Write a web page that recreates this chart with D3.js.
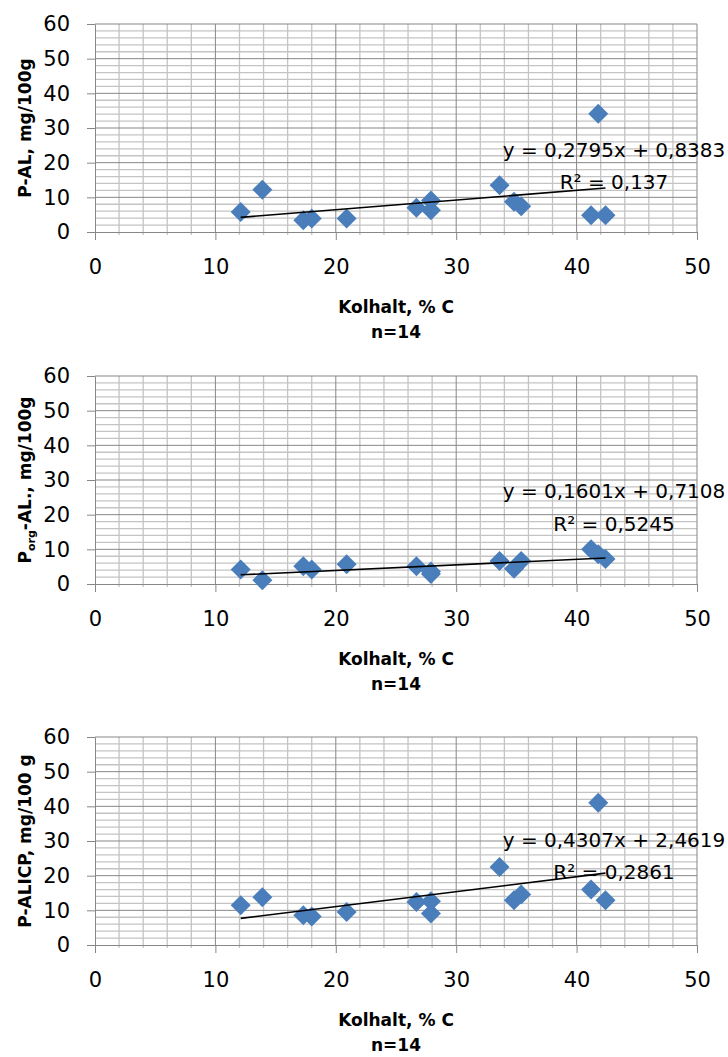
<!DOCTYPE html>
<html>
<head>
<meta charset="utf-8">
<script src="https://cdn.jsdelivr.net/npm/d3@7"></script>
<style>
	body{margin:0;background:#fff;}
	svg{display:block;font-family:'DejaVu Sans',sans-serif;}
</style>
</head>
<body>
<svg id="charts" width="728" height="1057"></svg>
<script>
/*data*/
const kolhalt = [12.1,13.9,17.3,18.0,20.9,26.7,27.9,27.9,33.6,34.8,35.4,41.2,41.8,42.4]
const p_al = [5.8,12.2,3.4,3.9,3.9,7.0,9.1,6.3,13.5,8.7,7.4,4.8,34.1,4.8]
const p_org_al = [4.2,1.1,5.1,4.2,5.7,5.1,3.6,2.9,6.6,4.4,6.6,10.0,8.6,7.2]
const p_alicp = [11.5,13.8,8.6,8.2,9.5,12.4,12.6,9.1,22.5,12.9,14.6,16.0,41.0,12.9]

const x_ticks = [0,10,20,30,40,50]
const y_ticks = [0,10,20,30,40,50,60]

const slopes = [0.2795,0.1601,0.4307]
const intercepts = [0.8383,0.7108,2.4619]
const r_squared = [0.137,0.5245,0.2861]

const y_titles = [
	[['P-AL, mg/100g',false]],
	[['P',false],['org',true],['-AL., mg/100g',false]],
	[['P-ALICP, mg/100 g',false]]
]
const x_title = 'Kolhalt, % C'
const n_label = 'n=14'
/*data*/

const series = [p_al,p_org_al,p_alicp]

const plot_tops = [24,376,737]
const plot_h = 208
const eq_offsets = [[133,165],[122,155],[110,142]]

const grid_major = '#878787'
const grid_minor = '#c4c4c4'
const blue = '#4a7ebb'

const comma = v => String(v).replace('.',',')

const svg = d3.select('#charts')

const xScale = d3.scaleLinear()
	.domain([0,50])
	.range([95,697])

const make_chart = (i) => {
	const top = plot_tops[i]
	const bottom = top + plot_h
	const vals = series[i]

	const yScale = d3.scaleLinear()
		.domain([0,60])
		.range([bottom,top])

	const chart = svg.append('g').classed('chart',true)

	//minor grid
	chart.selectAll('.hminor')
		.data(d3.range(0,61,2).filter(v => v % 10))
		.enter()
		.append('line')
		.attr('x1',xScale(0)).attr('x2',xScale(50))
		.attr('y1',d => yScale(d)).attr('y2',d => yScale(d))
		.attr('stroke',grid_minor)
		.attr('stroke-width',1.3)

	chart.selectAll('.vminor')
		.data(d3.range(0,51,2).filter(v => v % 10))
		.enter()
		.append('line')
		.attr('x1',d => xScale(d)).attr('x2',d => xScale(d))
		.attr('y1',top).attr('y2',bottom + 3)
		.attr('stroke',grid_minor)
		.attr('stroke-width',1.3)

	//major grid
	chart.selectAll('.hmajor')
		.data(y_ticks.filter(v => v > 0))
		.enter()
		.append('line')
		.attr('x1',xScale(0)).attr('x2',xScale(50))
		.attr('y1',d => yScale(d)).attr('y2',d => yScale(d))
		.attr('stroke',grid_major)

	chart.selectAll('.vmajor')
		.data(x_ticks.filter(v => v > 0))
		.enter()
		.append('line')
		.attr('x1',d => xScale(d)).attr('x2',d => xScale(d))
		.attr('y1',top).attr('y2',bottom)
		.attr('stroke',grid_major)

	const axisX = chart.append('g')
		.attr('transform',`translate(0,${bottom})`)
		.call(d3.axisBottom(xScale).tickValues(x_ticks).tickSize(8).tickPadding(19).tickSizeOuter(0))

	const axisY = chart.append('g')
		.attr('transform',`translate(${xScale(0)},0)`)
		.call(d3.axisLeft(yScale).tickValues(y_ticks).tickSize(8).tickPadding(17).tickSizeOuter(0))

	chart.selectAll('.domain, .tick line').attr('stroke',grid_major)
	chart.selectAll('.tick text')
		.attr('font-family','DejaVu Sans')
		.attr('font-size',21)
		.attr('fill','#000')

	//points
	chart.selectAll('.pt')
		.data(vals.map((v,j) => ({x:kolhalt[j],y:v})))
		.enter()
		.append('path')
		.classed('pt',true)
		.attr('d',d3.symbol(d3.symbolSquare,200))
		.attr('transform',d => `translate(${xScale(d.x)},${yScale(d.y)}) rotate(45)`)
		.attr('fill',blue)

	//trendline
	const ext = d3.extent(kolhalt)
	chart.append('line')
		.attr('x1',xScale(ext[0]))
		.attr('y1',yScale(slopes[i] * ext[0] + intercepts[i]))
		.attr('x2',xScale(ext[1]))
		.attr('y2',yScale(slopes[i] * ext[1] + intercepts[i]))
		.attr('stroke','#000')
		.attr('stroke-width',1.6)

	const eq = chart.append('g')
		.attr('font-size',20)
		.attr('text-anchor','middle')
	eq.append('text')
		.attr('x',614)
		.attr('y',top + eq_offsets[i][0])
		.text(`y = ${comma(slopes[i])}x + ${comma(intercepts[i])}`)
	eq.append('text')
		.attr('x',614)
		.attr('y',top + eq_offsets[i][1])
		.text(`R² = ${comma(r_squared[i])}`)

	//titles
	const cx = (xScale(0) + xScale(50)) / 2
	chart.append('text')
		.attr('x',cx)
		.attr('y',bottom + 81)
		.attr('text-anchor','middle')
		.attr('font-weight','bold')
		.attr('font-size',17)
		.text(x_title)
	chart.append('text')
		.attr('x',cx)
		.attr('y',bottom + 106)
		.attr('text-anchor','middle')
		.attr('font-weight','bold')
		.attr('font-size',17)
		.text(n_label)

	const yt = chart.append('text')
		.attr('transform',`translate(31,${(top + bottom) / 2}) rotate(-90)`)
		.attr('text-anchor','middle')
		.attr('font-weight','bold')
		.attr('font-size',17)
	let shifted = false
	y_titles[i].forEach(([t,sub]) => {
		const ts = yt.append('tspan').text(t)
		if(sub){
			ts.attr('font-size',11).attr('dy',4)
			shifted = true
		}else if(shifted){
			ts.attr('dy',-4)
			shifted = false
		}
	})
}

plot_tops.forEach((t,i) => make_chart(i))
</script>
</body>
</html>
